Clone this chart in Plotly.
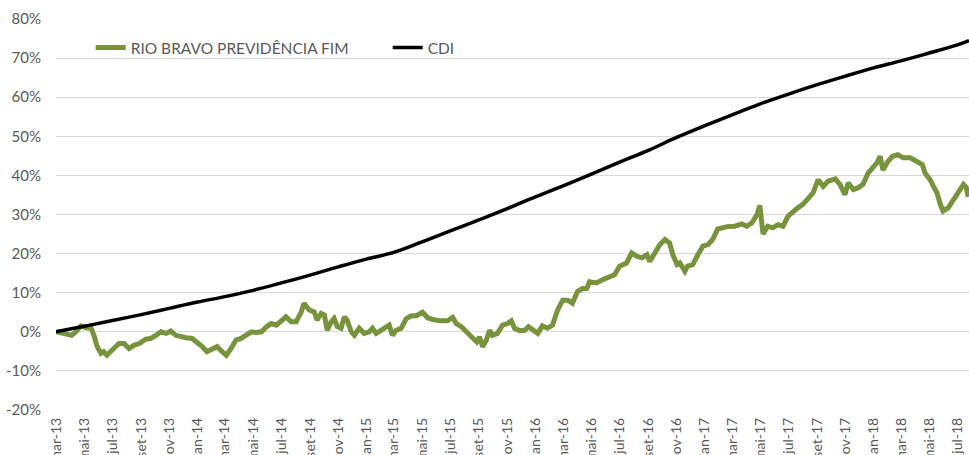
import plotly.graph_objects as go

fund_dates = [
    "2013-03-01", "2013-03-18", "2013-04-04", "2013-04-13", "2013-04-24", "2013-05-05", "2013-05-16",
    "2013-05-22", "2013-05-29", "2013-06-06", "2013-06-12", "2013-06-19", "2013-06-28", "2013-07-04",
    "2013-07-15", "2013-07-26", "2013-08-06", "2013-08-17", "2013-08-28", "2013-09-11", "2013-09-22",
    "2013-10-03", "2013-10-14", "2013-10-25", "2013-11-04", "2013-11-15", "2013-11-26", "2013-12-07",
    "2013-12-20", "2013-12-31", "2014-01-11", "2014-01-21", "2014-02-01", "2014-02-12", "2014-02-23",
    "2014-03-04", "2014-03-14", "2014-03-25", "2014-04-05", "2014-04-16", "2014-04-27", "2014-05-08",
    "2014-05-19", "2014-05-30", "2014-06-09", "2014-06-20", "2014-07-01", "2014-07-11", "2014-07-22",
    "2014-08-02", "2014-08-13", "2014-08-19", "2014-08-30", "2014-09-10", "2014-09-16", "2014-09-25",
    "2014-10-02", "2014-10-08", "2014-10-17", "2014-10-23", "2014-10-30", "2014-11-07", "2014-11-14",
    "2014-11-20", "2014-11-29", "2014-12-06", "2014-12-16", "2014-12-27", "2015-01-07", "2015-01-14",
    "2015-01-22", "2015-02-02", "2015-02-13", "2015-02-19", "2015-02-26", "2015-03-06", "2015-03-17",
    "2015-03-28", "2015-04-08", "2015-04-19", "2015-05-02", "2015-05-13", "2015-05-23", "2015-06-08",
    "2015-06-25", "2015-07-06", "2015-07-14", "2015-07-25", "2015-08-05", "2015-08-16", "2015-08-27",
    "2015-09-02", "2015-09-09", "2015-09-17", "2015-09-24", "2015-09-30", "2015-10-11", "2015-10-22",
    "2015-11-02", "2015-11-10", "2015-11-17", "2015-11-28", "2015-12-09", "2015-12-17", "2015-12-26",
    "2016-01-06", "2016-01-16", "2016-01-27", "2016-02-07", "2016-02-18", "2016-02-29", "2016-03-11",
    "2016-03-21", "2016-04-01", "2016-04-12", "2016-04-21", "2016-04-27", "2016-05-12", "2016-05-25",
    "2016-06-10", "2016-06-20", "2016-07-01", "2016-07-16", "2016-07-27", "2016-08-07", "2016-08-18",
    "2016-08-29", "2016-09-04", "2016-09-15", "2016-09-26", "2016-10-07", "2016-10-17", "2016-10-24",
    "2016-11-02", "2016-11-08", "2016-11-19", "2016-11-25", "2016-12-06", "2016-12-17", "2016-12-28",
    "2017-01-08", "2017-01-18", "2017-01-29", "2017-02-18", "2017-03-07", "2017-03-22", "2017-04-02",
    "2017-04-13", "2017-04-24", "2017-04-30", "2017-05-05", "2017-05-07", "2017-05-17", "2017-05-28",
    "2017-06-08", "2017-06-19", "2017-06-30", "2017-07-11", "2017-07-21", "2017-08-01", "2017-08-12",
    "2017-08-23", "2017-09-03", "2017-09-14", "2017-09-24", "2017-10-10", "2017-10-20", "2017-10-31",
    "2017-11-07", "2017-11-18", "2017-11-28", "2017-12-09", "2017-12-20", "2017-12-31", "2018-01-08",
    "2018-01-15", "2018-01-21", "2018-02-01", "2018-02-11", "2018-02-22", "2018-03-06", "2018-03-21",
    "2018-04-05", "2018-04-16", "2018-04-22", "2018-05-03", "2018-05-10", "2018-05-18", "2018-05-25",
    "2018-05-31", "2018-06-11", "2018-06-22", "2018-07-03", "2018-07-14", "2018-07-20", "2018-07-24",
]

fund_values = [
    0.0, -0.4, -0.9, 0.0, 1.5, 1.0, 0.9,
    -0.9, -3.8, -5.5, -5.1, -6.0, -5.1, -4.3,
    -3.0, -3.0, -4.3, -3.4, -3.0, -1.9, -1.7,
    -0.9, 0.0, -0.4, 0.2, -0.9, -1.3, -1.5,
    -1.7, -2.6, -3.8, -5.1, -4.3, -3.8, -5.1,
    -6.0, -4.3, -2.1, -1.7, -0.9, 0.0, -0.2,
    0.0, 1.3, 2.1, 1.7, 2.6, 3.8, 2.6,
    2.6, 5.1, 7.3, 5.6, 5.1, 3.0, 4.7,
    4.3, 0.4, 2.6, 3.4, 1.3, 0.9, 3.8,
    3.0, 0.0, -0.9, 0.9, -0.4, 0.0, 0.9,
    -0.4, 0.4, 1.0, 1.7, -0.9, 0.4, 0.9,
    3.4, 4.1, 4.1, 5.0, 3.6, 3.2, 2.8,
    2.8, 3.7, 2.1, 1.3, 0.0, -1.3, -2.6,
    -1.3, -3.8, -2.1, 0.4, -0.9, -0.4, 1.7,
    2.1, 2.8, 0.9, 0.3, 0.4, 1.3, 0.4,
    -0.4, 1.5, 0.9, 1.7, 5.6, 8.1, 8.1,
    7.3, 10.3, 11.1, 11.1, 12.8, 12.5, 13.3,
    14.2, 14.6, 16.8, 17.6, 20.2, 19.3, 18.9,
    19.7, 18.0, 20.2, 22.3, 23.6, 22.7, 19.7,
    17.2, 17.6, 15.5, 16.8, 17.2, 19.7, 21.9,
    22.3, 23.6, 26.3, 26.9, 27.0, 27.6, 27.0,
    27.9, 30.0, 32.3, 27.0, 25.0, 27.0, 26.6,
    27.4, 27.0, 29.6, 30.9, 31.7, 32.6, 34.3,
    35.5, 38.9, 37.2, 38.5, 39.1, 37.7, 35.1,
    38.1, 36.4, 36.8, 37.7, 40.6, 41.9, 43.2,
    44.9, 41.4, 43.6, 44.9, 45.3, 44.5, 44.5,
    43.6, 42.8, 40.6, 38.9, 37.2, 35.5, 32.6,
    30.9, 31.7, 33.8, 36.0, 37.7, 37.0, 34.5,
]

cdi_dates = [
    "2013-03-01", "2013-05-01", "2013-07-01", "2013-09-01", "2013-11-01",
    "2014-01-01", "2014-03-01", "2014-05-01", "2014-07-01", "2014-09-01", "2014-11-01",
    "2015-01-01", "2015-03-01", "2015-05-01", "2015-07-01", "2015-09-01", "2015-11-01",
    "2016-01-01", "2016-03-01", "2016-05-01", "2016-07-01", "2016-09-01", "2016-11-01",
    "2017-01-01", "2017-03-01", "2017-05-01", "2017-07-01", "2017-09-01", "2017-11-01",
    "2018-01-01", "2018-03-01", "2018-05-01", "2018-07-01", "2018-07-26",
]

cdi_values = [
    0.0, 1.4, 2.9, 4.4, 6.0,
    7.6, 9.0, 10.6, 12.5, 14.5, 16.6,
    18.6, 20.3, 23.0, 25.8, 28.6, 31.5,
    34.5, 37.3, 40.3, 43.4, 46.4, 49.7,
    52.7, 55.5, 58.3, 60.8, 63.2, 65.4,
    67.5, 69.3, 71.3, 73.4, 74.5,
]

tick_dates = [
    "2013-03-01", "2013-05-01", "2013-07-01", "2013-09-01", "2013-11-01",
    "2014-01-01", "2014-03-01", "2014-05-01", "2014-07-01", "2014-09-01", "2014-11-01",
    "2015-01-01", "2015-03-01", "2015-05-01", "2015-07-01", "2015-09-01", "2015-11-01",
    "2016-01-01", "2016-03-01", "2016-05-01", "2016-07-01", "2016-09-01", "2016-11-01",
    "2017-01-01", "2017-03-01", "2017-05-01", "2017-07-01", "2017-09-01", "2017-11-01",
    "2018-01-01", "2018-03-01", "2018-05-01", "2018-07-01",
]
tick_labels = [
    "mar-13", "mai-13", "jul-13", "set-13", "nov-13",
    "jan-14", "mar-14", "mai-14", "jul-14", "set-14", "nov-14",
    "jan-15", "mar-15", "mai-15", "jul-15", "set-15", "nov-15",
    "jan-16", "mar-16", "mai-16", "jul-16", "set-16", "nov-16",
    "jan-17", "mar-17", "mai-17", "jul-17", "set-17", "nov-17",
    "jan-18", "mar-18", "mai-18", "jul-18",
]

y_ticks = [-20, -10, 0, 10, 20, 30, 40, 50, 60, 70, 80]
y_labels = [f"{v}%" for v in y_ticks]

FONT = "Lato, 'Open Sans', sans-serif"
TXT = "#595959"

fig = go.Figure()
fig.add_trace(go.Scatter(
    x=fund_dates, y=fund_values, mode="lines", name="RIO BRAVO PREVIDÊNCIA FIM",
    line=dict(color="#77933C", width=5),
))
fig.add_trace(go.Scatter(
    x=cdi_dates, y=cdi_values, mode="lines", name="CDI", line_shape="spline",
    line=dict(color="#000000", width=3.5),
))

fig.update_layout(
    width=969, height=455,
    margin=dict(l=56, r=0, t=19, b=45, autoexpand=False),
    paper_bgcolor="white", plot_bgcolor="white",
    font=dict(family=FONT, color=TXT, size=14),
    showlegend=True,
    legend=dict(
        orientation="h", x=0.038, y=0.926, xanchor="left", yanchor="middle",
        font=dict(family=FONT, size=15.5, color=TXT),
        bgcolor="rgba(0,0,0,0)", entrywidth=252, entrywidthmode="pixels",
        itemwidth=30,
    ),
    xaxis=dict(
        type="date", range=["2013-03-01", "2018-07-26"], automargin=False,
        tickmode="array", tickvals=tick_dates, ticktext=tick_labels,
        tickangle=-90, tickfont=dict(family=FONT, size=14, color=TXT),
        ticklabelstandoff=4,
        showgrid=False, showline=False, zeroline=False, ticks="",
    ),
    yaxis=dict(
        range=[-20, 80], tickmode="array", tickvals=y_ticks, ticktext=y_labels,
        automargin=False,
        tickfont=dict(family=FONT, size=15, color=TXT),
        showgrid=True, gridcolor="#d9d9d9", gridwidth=1,
        zeroline=False, showline=False, ticks="", ticklabelstandoff=14,
    ),
)

fig.write_html(
    "out.html",
    config={"displayModeBar": False},
    post_script="document.body.style.margin='0';document.body.style.padding='0';",
)
